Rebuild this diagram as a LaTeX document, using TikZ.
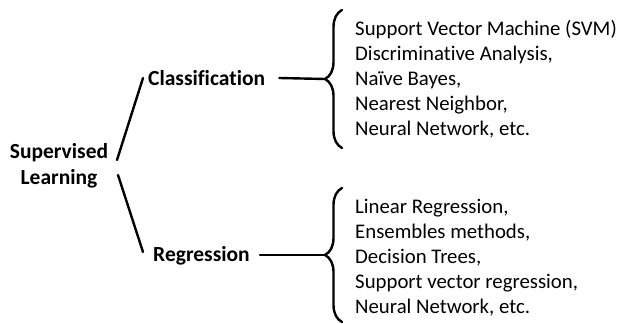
\documentclass[tikz,border=0pt]{standalone}
\usepackage{fontspec}
\setmainfont[Ligatures=NoCommon]{Carlito}
\usetikzlibrary{decorations.pathreplacing}
\begin{document}
\begin{tikzpicture}[x=1pt,y=-1pt,
  line/.style={line width=2.4pt,line cap=round},
  head/.style={font=\fontsize{21.5}{26.5}\selectfont\bfseries,inner sep=0pt,align=center},
  items/.style={font=\fontsize{20.8}{25}\selectfont,inner sep=0pt,align=left,anchor=north west},
  curly/.style={line, decorate,decoration={brace,amplitude=17pt,aspect=0.5}}]
\useasboundingbox (0,0) rectangle (624,324);
% headings
\node[head] (sl) at (59,166) {Supervised\\Learning};
\node[head,anchor=west] (cl) at (148,78) {Classification};
\node[head,anchor=west] (rg) at (153,256) {Regression};
% branches from the root
\draw[line] (117,160) -- (143,78);
\draw[line] (118,175) -- (143,252);
% braces; the stems run into their tips
\coordinate (b1top) at (342,10);
\coordinate (b1bot) at (342,148);
\coordinate (b2top) at (342,188);
\coordinate (b2bot) at (342,322);
\coordinate (b1tip) at (325,79);
\coordinate (b2tip) at (325,255);
\draw[curly] (b1bot) -- (b1top);
\draw[curly] (b2bot) -- (b2top);
\draw[line] ([xshift=14pt]cl.east) -- (b1tip);
\draw[line] ([xshift=10pt]rg.east |- b2tip) -- (b2tip);
% lists
\node[items] (cls) at (355,20.5) {Support Vector Machine (SVM)\\Discriminative Analysis,\\Na\"ive Bayes,\\Nearest Neighbor,\\Neural Network, etc.};
\node[items] (reg) at (355,198.5) {Linear Regression,\\Ensembles methods,\\Decision Trees,\\Support vector regression,\\Neural Network, etc.};
\end{tikzpicture}
\end{document}
